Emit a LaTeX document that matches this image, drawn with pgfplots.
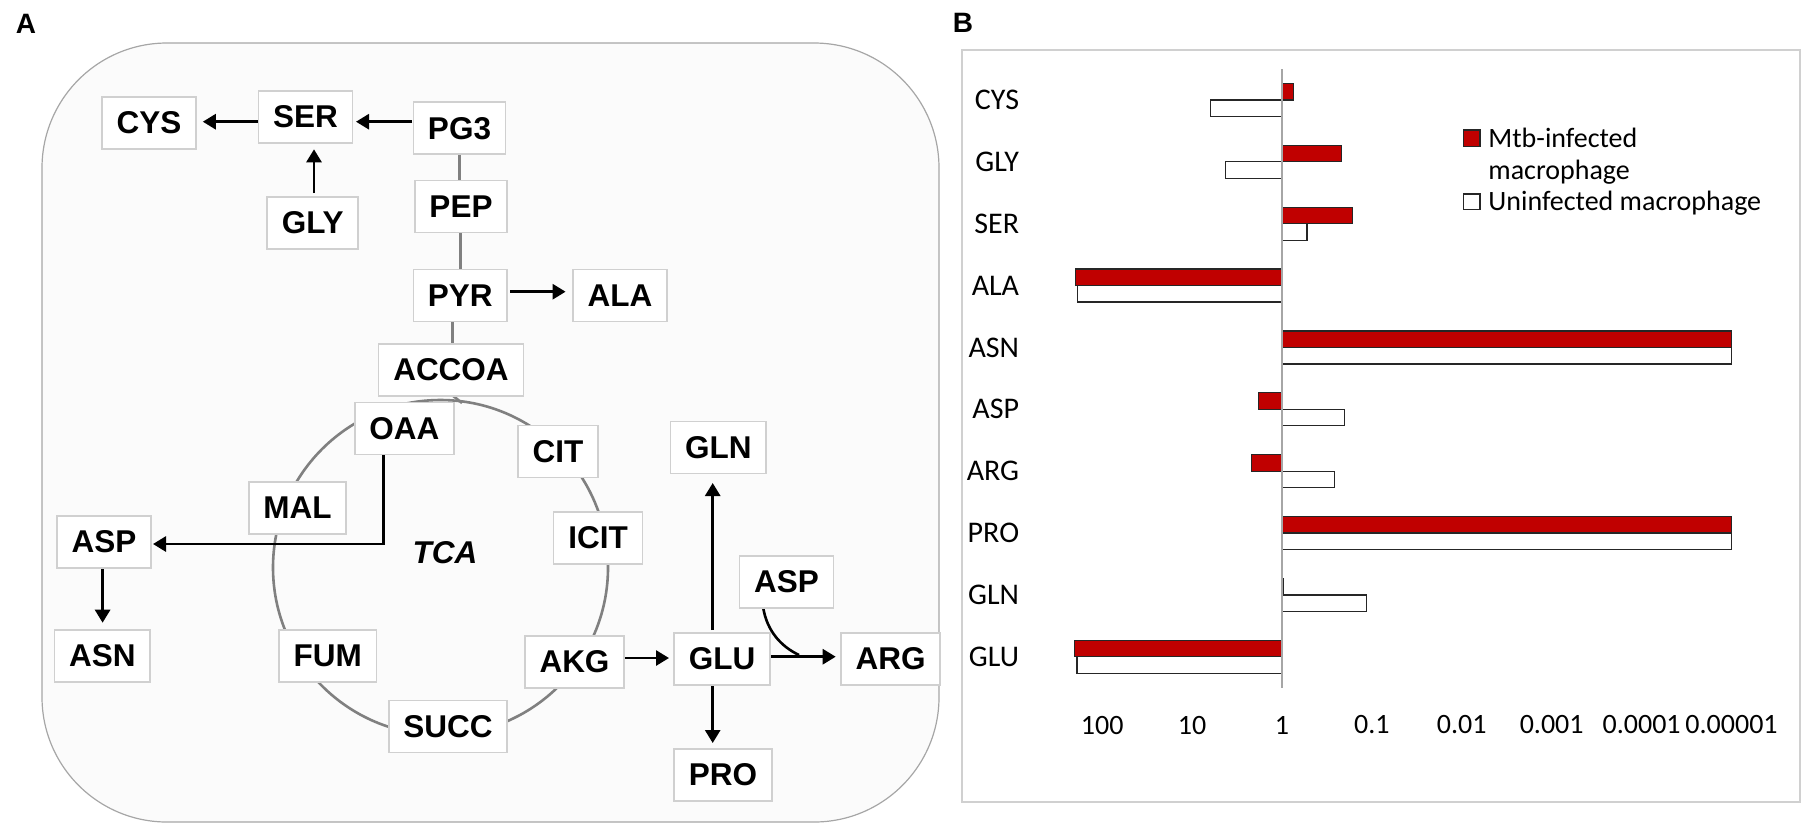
\documentclass[border=0pt]{standalone}
\usepackage{fontspec}
\setmainfont{Carlito}
\newfontfamily\arial{Liberation Sans}
\usepackage{pgfplots}
\pgfplotsset{compat=1.18}
\usetikzlibrary{arrows.meta}
\definecolor{mtbred}{HTML}{C00000}
\definecolor{boxgray}{HTML}{D0D0D0}
\definecolor{panelfill}{HTML}{FBFBFB}
\definecolor{panelline}{HTML}{A6A6A6}
\definecolor{cyclegray}{HTML}{808080}

\begin{document}
\begin{tikzpicture}
\begin{scope}[x=0.5pt,y=-0.5pt,
  box/.style={draw=boxgray, line width=0.8pt, fill=white,
    font=\arial\bfseries\fontsize{15.75pt}{18pt}\selectfont,
    inner xsep=7.3pt, inner ysep=0pt, minimum height=26pt},
  arr/.style={black, line width=1.4pt, -{Triangle[length=6.5pt,width=7.5pt]}},
  conn/.style={cyclegray, line width=1.3pt}]
\useasboundingbox (0,0) rectangle (1807,832);

% ---- panel A
\node[font=\arial\bfseries\fontsize{14pt}{16pt}\selectfont] at (26,24) {A};
\draw[panelline, fill=panelfill, line width=0.6pt, rounded corners=62.5pt] (42,43) rectangle (939,822);

% TCA cycle
\draw[conn] (440.5,567.5) circle[radius=83.75pt];
\draw[conn] (452,395) -- (462,403);

% gray links
\draw[conn] (459.5,154) -- (459.5,181);
\draw[conn] (460.5,232) -- (460.5,270);
\draw[conn] (452.7,321) -- (452.7,345);

% arrows
\draw[arr] (412,121.7) -- (356,121.7);
\draw[arr] (258.3,121.7) -- (202.8,121.7);
\draw[arr] (314,193) -- (314,149.3);
\draw[arr] (510,291.7) -- (565.6,291.7);
\draw[arr] (383.8,455) -- (383.8,544) -- (153,544);
\draw[arr] (102.6,568) -- (102.6,622.7);
\draw[arr] (624,658) -- (669,658);
\draw[arr] (712.7,630) -- (712.7,483);
\draw[arr] (712.7,685) -- (712.7,743);
\draw[arr] (769,656.7) -- (835.7,656.7);
\draw[black, line width=1.3pt] (763.3,608.3) .. controls (767,630) and (780,646) .. (799,655);

% metabolites
\node[box] at (149,123) {CYS};
\node[box] at (305.4,117) {SER};
\node[box] at (459.5,128.2) {PG3};
\node[box] at (312.7,223) {GLY};
\node[box] at (461,206.5) {PEP};
\node[box] at (460.3,295.5) {PYR};
\node[box] at (620,295.5) {ALA};
\node[box] at (451,369.7) {ACCOA};
\node[box] at (404.4,428.3) {OAA};
\node[box] at (558,451.5) {CIT};
\node[box] at (297.5,508) {MAL};
\node[box] at (598,537.7) {ICIT};
\node[font=\arial\bfseries\itshape\fontsize{15.75pt}{18pt}\selectfont] at (445,553) {TCA};
\node[box] at (104,542) {ASP};
\node[box] at (102.3,656) {ASN};
\node[box] at (327.7,656) {FUM};
\node[box] at (448,726.3) {SUCC};
\node[box] at (574.5,661.7) {AKG};
\node[box] at (722,658.7) {GLU};
\node[box] at (890.5,659) {ARG};
\node[box] at (786.4,582) {ASP};
\node[box] at (718.4,447.5) {GLN};
\node[box] at (723,775) {PRO};

% ---- panel B frame
\node[font=\arial\bfseries\fontsize{14pt}{16pt}\selectfont] at (963,23) {B};
\draw[boxgray, line width=0.6pt, fill=white] (962,50) rectangle (1800,802);
\end{scope}

\begin{axis}[
  at={(533.2pt,-34.5pt)}, anchor=north west,
  scale only axis, width=332.55pt, height=309.35pt,
  xbar, bar width=8.25pt,
  xmode=log, x dir=reverse, log origin x=0,
  xmin=1e-5, xmax=250,
  ymin=0.5, ymax=10.5,
  ytick={1,...,10},
  yticklabels={GLU,GLN,PRO,ARG,ASP,ASN,ALA,SER,GLY,CYS},
  xtick={100,10,1,0.1,0.01,0.001,0.0001,0.00001},
  xticklabels={100,10,1,0.1,0.01,0.001,0.0001,0.00001},
  axis line style={draw=none}, tick style={draw=none},
  yticklabel style={anchor=east, inner sep=0pt, xshift=-19.2pt,
    font=\fontsize{15pt}{17pt}\selectfont},
  xticklabel style={anchor=center, inner sep=0pt, yshift=-18.65pt,
    font=\fontsize{14pt}{16pt}\selectfont},
  clip=false,
]
% Mtb-infected macrophage
\addplot[fill=mtbred, draw=black!85, line width=0.6pt, bar shift=4.125pt] coordinates {
(205,1) (0.955,2) (0.00001,3) (2.19,4) (1.81,5) (0.00001,6) (197,7) (0.163,8) (0.216,9) (0.74,10)
};
% uninfected macrophage
\addplot[fill=white, draw=black!85, line width=0.6pt, bar shift=-4.125pt] coordinates {
(191,1) (0.114,2) (0.00001,3) (0.26,4) (0.2,5) (0.00001,6) (188,7) (0.527,8) (4.26,9) (6.28,10)
};
\draw[black!35, line width=1pt] (axis cs:1,0.5) -- (axis cs:1,10.5);
\end{axis}

\begin{scope}[x=0.5pt,y=-0.5pt, lg/.style={anchor=base west, inner sep=0pt, font=\fontsize{14pt}{16pt}\selectfont}]
\filldraw[fill=mtbred, draw=black!85, line width=0.6pt] (1463.5,130) rectangle (1480,146.7);
\node[lg] at (1488,147) {Mtb-infected};
\node[lg] at (1488,179) {macrophage};
\filldraw[fill=white, draw=black!85, line width=0.6pt] (1463.5,194) rectangle (1480,209.3);
\node[lg] at (1488,210) {Uninfected macrophage};
\end{scope}
\end{tikzpicture}
\end{document}
